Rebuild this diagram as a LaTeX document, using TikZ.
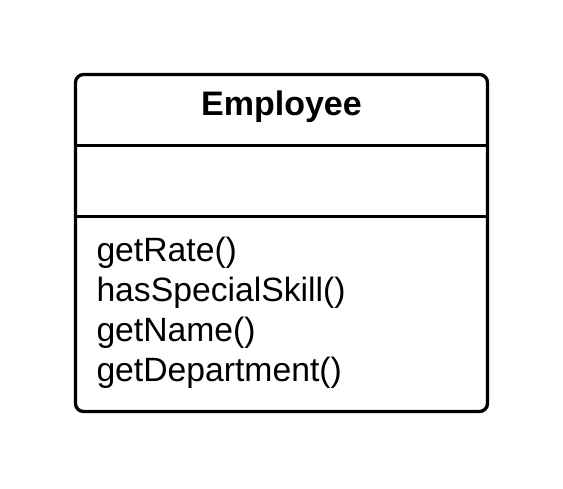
\documentclass[tikz,border=0pt]{standalone}
\usepackage{fontspec}
\setmainfont{Liberation Sans}
\begin{document}
\begin{tikzpicture}[x=1pt,y=-1pt,
  umlline/.style={line width=3.3pt,black},
  umltext/.style={inner sep=0pt,font=\fontsize{33.7}{40}\selectfont},
  umlmethod/.style={umltext,anchor=base west}]
\useasboundingbox (0,0) rectangle (563,488);
\coordinate (tl) at (75.5,74.5);
\coordinate (br) at (487.5,411.5);
\draw[umlline,rounded corners=8pt] (tl) rectangle (br);
\coordinate (d1l) at (75.5,145.5);
\coordinate (d1r) at (487.5,145.5);
\coordinate (d2l) at (75.5,216.5);
\coordinate (d2r) at (487.5,216.5);
\draw[umlline] (d1l) -- (d1r);
\draw[umlline] (d2l) -- (d2r);
\node[umltext,anchor=base,font=\fontsize{34}{40}\selectfont\bfseries] (title) at (281.5,115.7) {Employee};
\node[umlmethod] (m1) at (96.3,261) {getRate()};
\node[umlmethod] (m2) at (96.3,301) {hasSpecialSkill()};
\node[umlmethod] (m3) at (96.3,341) {getName()};
\node[umlmethod] (m4) at (96.3,381) {getDepartment()};
\end{tikzpicture}
\end{document}
